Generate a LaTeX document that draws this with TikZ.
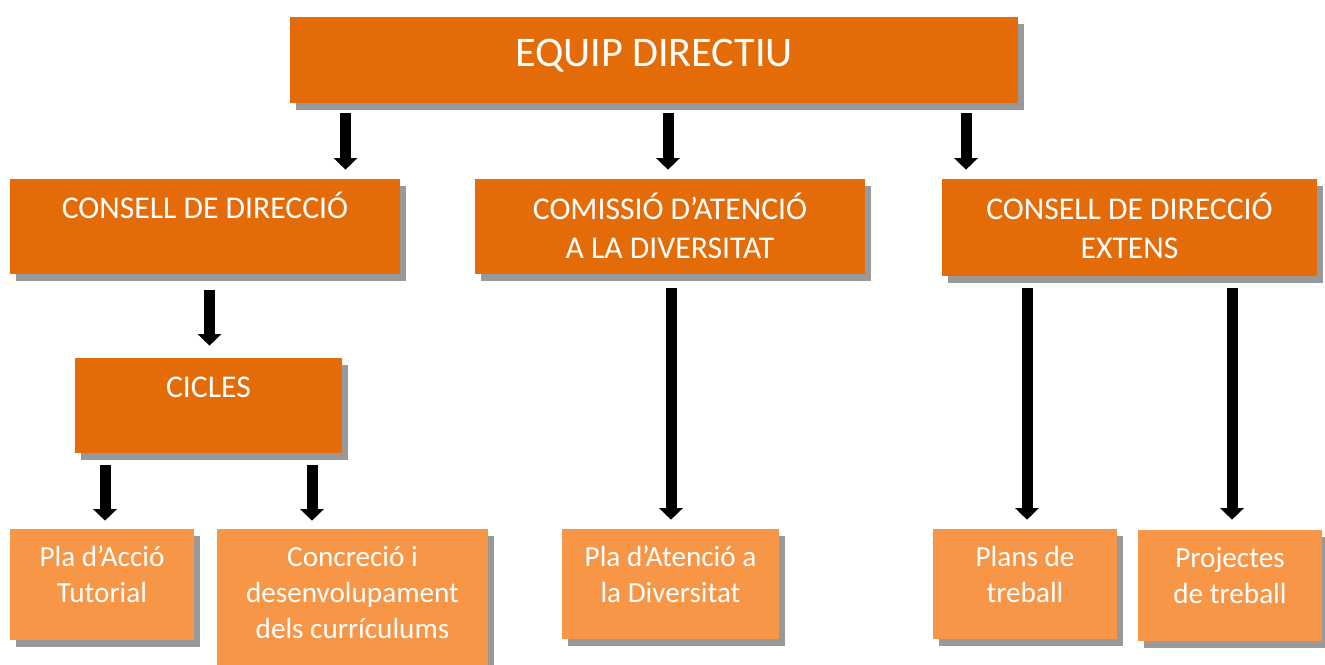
\documentclass[tikz,border=0pt]{standalone}
\usepackage{fontspec}
\setmainfont{Carlito}
\usetikzlibrary{arrows.meta,shadows}

\definecolor{fosc}{HTML}{E36C09}
\definecolor{clar}{HTML}{F79646}
\definecolor{ombra}{HTML}{999999}

\tikzset{
	caixa/.style={rectangle, inner sep=0pt, drop shadow={shadow xshift=3.6pt, shadow yshift=-4.2pt, fill=ombra, opacity=1}},
	fosca/.style={caixa, fill=fosc},
	clara/.style={caixa, fill=clar},
	textgran/.style={anchor=base, text=white, align=center, inner sep=0pt, font=\fontsize{19}{23}\selectfont},
	textpetit/.style={anchor=base, text=white, align=center, inner sep=0pt, font=\fontsize{17.5}{21.6}\selectfont},
	fletxa/.style={line width=6.6pt, -{Triangle[width=13.8pt, length=6.9pt]}, shorten <=7pt, shorten >=5.4pt}
}

\begin{document}
\begin{tikzpicture}[x=0.6pt, y=-0.6pt]
		\useasboundingbox (0,0) rectangle (1325,664);
		
		%% caixes fosques
		\node[fosca, minimum width=436.8pt, minimum height=51.6pt] (eq) at (654,60) {};
		\node[fosca, minimum width=234pt, minimum height=57pt] (cd) at (205,226.5) {};
		\node[fosca, minimum width=234pt, minimum height=57pt] (cad) at (670,226.5) {};
		\node[fosca, minimum width=225pt, minimum height=58.2pt] (cde) at (1129.5,227.5) {};
		\node[fosca, minimum width=160.2pt, minimum height=57pt] (cic) at (208.5,405.5) {};
		
		%% caixes clares
		\node[clara, minimum width=110.4pt, minimum height=66.6pt] (pat) at (102,584.5) {};
		\node[clara, minimum width=162.6pt, minimum height=90pt] (conc) at (352.5,604) {};
		\node[clara, minimum width=130.2pt, minimum height=66pt] (pad) at (670.5,584) {};
		\node[clara, minimum width=110.4pt, minimum height=66pt] (plt) at (1025,584) {};
		\node[clara, minimum width=110.4pt, minimum height=66.6pt] (prt) at (1230,585.5) {};
		
		%% textos (base = ultima linia)
		\node[textgran, font=\fontsize{25.3}{30}\selectfont] (eqt) at ([yshift=-30pt]eq.north) {EQUIP DIRECTIU};
		\node[textgran] (cdt) at ([yshift=-24pt]cd.north) {CONSELL DE DIRECCIÓ};
		\node[textgran] (cadt) at ([yshift=-47.6pt]cad.north) {COMISSIÓ D’ATENCIÓ\\A LA DIVERSITAT};
		\node[textgran] (cdet) at ([yshift=-47.6pt]cde.north) {CONSELL DE DIRECCIÓ\\EXTENS};
		\node[textgran] (cict) at ([yshift=-24pt]cic.north) {CICLES};
		\node[textpetit] (patt) at ([yshift=-44.4pt]pat.north) {Pla d’Acció\\Tutorial};
		\node[textpetit] (conct) at ([yshift=-66pt]conc.north) {Concreció i\\desenvolupament\\dels currículums};
		\node[textpetit] (padt) at ([yshift=-44.4pt]pad.north) {Pla d’Atenció a\\la Diversitat};
		\node[textpetit] (pltt) at ([yshift=-44.1pt]plt.north) {Plans de\\treball};
		\node[textpetit] (prtt) at ([yshift=-44.1pt]prt.north) {Projectes\\de treball};
		
		%% fletxes
		\coordinate (f1) at (345.5,0);
		\coordinate (f2) at (668,0);
		\coordinate (f3) at (966,0);
		\coordinate (f4) at (209.5,0);
		\coordinate (f5) at (105,0);
		\coordinate (f6) at (312,0);
		\coordinate (f7) at (671,0);
		\coordinate (f8) at (1027,0);
		\coordinate (f9) at (1232,0);
		
		\draw[fletxa, shorten <=6pt] (eq.south -| f1) -- (cd.north -| f1);
		\draw[fletxa, shorten <=6pt] (eq.south -| f2) -- (cad.north -| f2);
		\draw[fletxa, shorten <=6pt] (eq.south -| f3) -- (cde.north -| f3);
		\draw[fletxa, shorten <=9.6pt, shorten >=7.2pt] (cd.south -| f4) -- (cic.north -| f4);
		\draw[fletxa, shorten >=4.8pt] (cic.south -| f5) -- (pat.north -| f5);
		\draw[fletxa, shorten >=4.8pt] (cic.south -| f6) -- (conc.north -| f6);
		\draw[fletxa, shorten <=8.4pt] (cad.south -| f7) -- (pad.north -| f7);
		\draw[fletxa] (cde.south -| f8) -- (plt.north -| f8);
		\draw[fletxa, shorten >=6pt] (cde.south -| f9) -- (prt.north -| f9);
	\end{tikzpicture}
\end{document}
